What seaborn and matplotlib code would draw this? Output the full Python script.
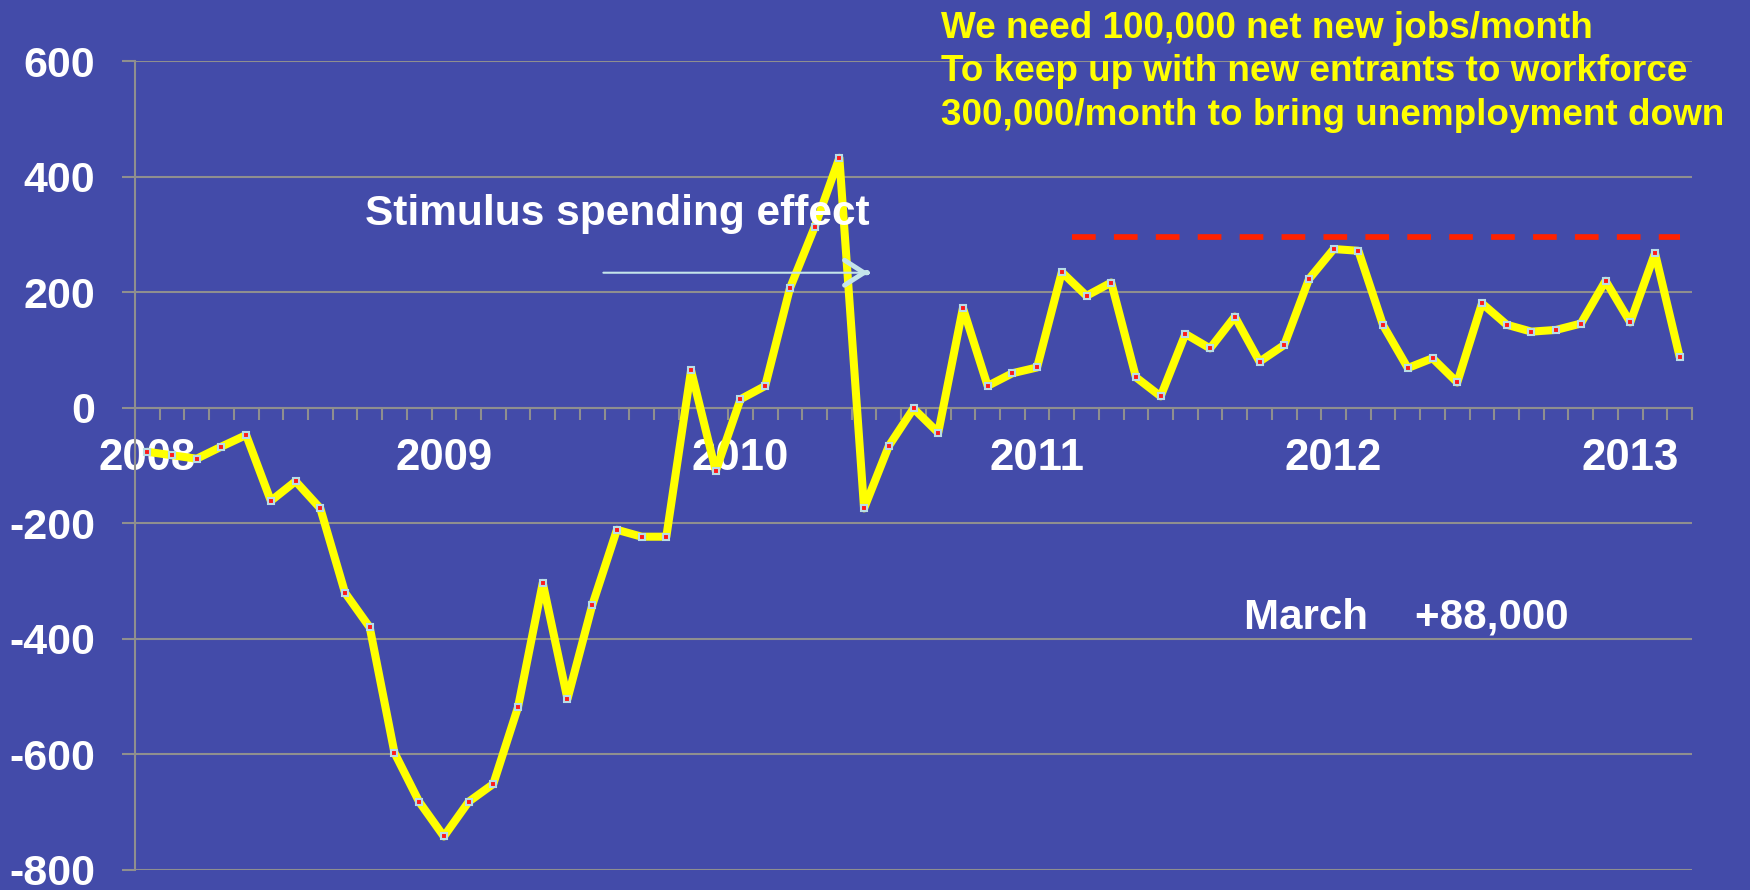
import pandas as pd
import seaborn as sns
import matplotlib.pyplot as plt
import numpy as np

# Monthly net change in payroll jobs (thousands), Jan 2008 - Mar 2013
months = pd.period_range('2008-01', '2013-03', freq='M')
jobs = [-76, -82, -88, -67, -47, -161, -127, -174, -320, -380, -597, -682,
        -742, -682, -651, -518, -303, -504, -342, -211, -223, -223, 65, -109,
        15, 38, 207, 313, 433, -174, -66, -1, -43, 173, 38, 60,
        70, 235, 194, 217, 53, 20, 128, 103, 158, 80, 109, 223,
        275, 272, 143, 69, 86, 44, 181, 144, 132, 135, 146, 220,
        148, 268, 88]
year_labels = ['2008', '2009', '2010', '2011', '2012', '2013']
y_ticks = [-800, -600, -400, -200, 0, 200, 400, 600]
target_level = 295          # red dashed "needed" line
target_span = (37.4, 62.0)  # month positions covered by the dashed line

df = pd.DataFrame({'month': months.astype(str), 'jobs': jobs})
df['pos'] = np.arange(len(df))

bg = '#434ba9'
grid_c = '#8f8f8f'

sns.set_style('white', {'axes.facecolor': bg, 'figure.facecolor': bg})
plt.rcParams['font.family'] = ['Liberation Sans', 'DejaVu Sans']
plt.rcParams['font.weight'] = 'bold'

fig = plt.figure(figsize=(17.5, 8.9), dpi=100)
ax = fig.add_axes([0.0771, 0.0225, 0.8898, 0.9086])

sns.lineplot(data=df, x='pos', y='jobs', ax=ax, color='#ffff00', linewidth=5.8,
             marker='s', markersize=4.4, markerfacecolor='#ff1a1a',
             mec='#b8dde6', mew=1.5, zorder=3)

# target line
ax.hlines(target_level, *target_span, colors='#ff2200', linewidth=4.1,
          linestyles=(0, (4.16, 3.2)), zorder=2)

ax.set_xlim(-0.5, len(df) - 0.5)
ax.set_ylim(-800, 600)

# y axis
ax.set_yticks(y_ticks)
ax.set_yticklabels([str(v) for v in y_ticks])
ax.yaxis.grid(True, color=grid_c, linewidth=1.5)
ax.tick_params(axis='y', left=True, length=9.4, width=1.5, color=grid_c,
               pad=19, labelsize=31, labelcolor='white')

# x axis sits at zero, year labels at each January
jan_pos = df.loc[df['month'].str.endswith('-01'), 'pos'].tolist()
ax.set_xticks(jan_pos)
ax.set_xticklabels(year_labels)
ax.set_xticks(np.arange(-0.5, len(df), 1), minor=True)
ax.tick_params(axis='x', which='major', bottom=True, length=0, pad=22,
               labelsize=31.5, labelcolor='white')
ax.tick_params(axis='x', which='minor', bottom=True, length=8.6, width=1.5,
               color=grid_c, direction='out')
ax.spines['bottom'].set_position(('data', 0))
ax.spines['bottom'].set_color(grid_c)
ax.spines['bottom'].set_linewidth(1.5)
ax.spines['left'].set_color(grid_c)
ax.spines['left'].set_linewidth(1.5)
ax.spines['top'].set_visible(False)
ax.spines['right'].set_visible(False)
ax.set_xlabel('')
ax.set_ylabel('')
for lab in ax.get_xticklabels() + ax.get_yticklabels():
    lab.set_fontweight('bold')

# annotations
ax.text(8.82, 317, 'Stimulus spending effect', color='white', fontsize=30.5,
        fontweight='bold', va='baseline', ha='left', zorder=4)
ax.annotate('', xy=(29.29, 234), xytext=(18.34, 234),
            arrowprops=dict(arrowstyle='-', color='#c4e4ea', lw=1.5), zorder=4)
ax.annotate('', xy=(29.29, 234), xytext=(29.0, 234),
            arrowprops=dict(arrowstyle='->, head_length=0.7, head_width=0.45',
                            color='#c4e4ea', lw=3.5, mutation_scale=20),
            zorder=4)
ax.text(44.37, -381.5, 'March    +88,000', color='white', fontsize=30.3,
        fontweight='bold', va='baseline', ha='left', zorder=4)
ax.text(32.1, 687, 'We need 100,000 net new jobs/month\n'
        'To keep up with new entrants to workforce\n'
        '300,000/month to bring unemployment down',
        color='#ffff00', fontsize=26.6, fontweight='bold', va='top', ha='left',
        linespacing=1.31, clip_on=False, zorder=4)

plt.savefig('out.png', dpi=100, facecolor=bg)
